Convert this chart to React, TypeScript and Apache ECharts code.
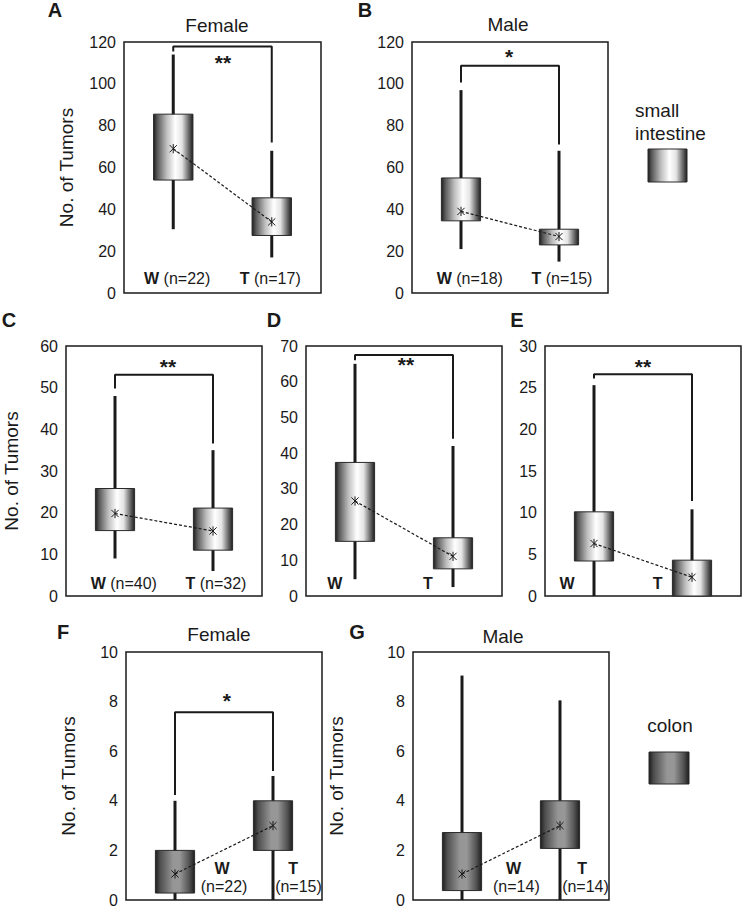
import React, { useEffect, useRef } from 'react';
import * as echarts from 'echarts';

// ---------- data ----------
const groups = ['W', 'T'];
// each box: [lower whisker, Q1, Q3, upper whisker, mean]
const aW = [30.5, 54, 85.5, 114, 69];
const aT = [17, 27.5, 45.5, 68, 34];
const bW = [21, 34.5, 55, 97, 39];
const bT = [15, 23, 30.5, 68, 27];
const cW = [9, 15.7, 25.8, 48, 19.8];
const cT = [6, 11, 21.1, 35, 15.6];
const dW = [4.7, 15.3, 37.4, 65, 26.6];
const dT = [2.5, 7.6, 16.3, 42, 11.1];
const eW = [0, 4.2, 10.1, 25.3, 6.3];
const eT = [0, 0, 4.3, 10.4, 2.25];
const fW = [0, 0.28, 2.0, 4.0, 1.05];
const fT = [0, 2.0, 4.0, 5.0, 3.0];
const gW = [0, 0.38, 2.72, 9.05, 1.05];
const gT = [0, 2.08, 4.0, 8.05, 3.0];

// significance brackets: [bar level, W leg end, T leg end]
const bracketA = [117.8, 115.5, 72];
const bracketB = [108.7, 100.6, 71];
const bracketC = [53.1, 49.8, 36.6];
const bracketD = [67.5, 66, 44];
const bracketE = [26.6, 26.1, 11.4];
const bracketF = [7.57, 4.23, 5.2];
const sigA = '**';
const sigB = '*';
const sigC = '**';
const sigD = '**';
const sigE = '**';
const sigF = '*';

// sample sizes [W, T]
const nA = [22, 17];
const nB = [18, 15];
const nC = [40, 32];
const nF = [22, 15];
const nG = [14, 14];

// y axis ranges [max, step]
const yA = [120, 20];
const yB = [120, 20];
const yC = [60, 10];
const yD = [70, 10];
const yE = [30, 5];
const yF = [10, 2];
const yG = [10, 2];

const yTitle = 'No. of Tumors';

// ---------- styling ----------
const FONT = '"Liberation Sans", Arial, Helvetica, sans-serif';
const INK = '#1a1a1a';
const BOX_HALF = 0.4;
const X_POS = [1, 3];

const SI_STOPS = [
  { offset: 0, color: '#1e1e1e' },
  { offset: 0.1, color: '#5a5a5a' },
  { offset: 0.33, color: '#bdbdbd' },
  { offset: 0.55, color: '#ffffff' },
  { offset: 0.72, color: '#e4e4e4' },
  { offset: 0.88, color: '#717171' },
  { offset: 1, color: '#1e1e1e' },
];
const COLON_STOPS = [
  { offset: 0, color: '#1e1e1e' },
  { offset: 0.12, color: '#4e4e4e' },
  { offset: 0.45, color: '#969696' },
  { offset: 0.62, color: '#979797' },
  { offset: 0.86, color: '#545454' },
  { offset: 1, color: '#1e1e1e' },
];

const grad = (stops: any[]) => new echarts.graphic.LinearGradient(0, 0, 1, 0, stops);

type LabelSpec = { x: number; y: number; text: string; size: number; bold: boolean };

const inline = (n: number[], xs: number[], y: number): LabelSpec[] => [
  { x: xs[0], y, text: `{b|${groups[0]}} (n=${n[0]})`, size: 16, bold: false },
  { x: xs[1], y, text: `{b|${groups[1]}} (n=${n[1]})`, size: 16, bold: false },
];
const lettersOnly = (xs: number[], y: number): LabelSpec[] => [
  { x: xs[0], y, text: `{b|${groups[0]}}`, size: 16, bold: true },
  { x: xs[1], y, text: `{b|${groups[1]}}`, size: 16, bold: true },
];
const stacked = (n: number[], xs: number[][], y1: number, y2: number): LabelSpec[] => [
  { x: xs[0][0], y: y1, text: `{b|${groups[0]}}`, size: 16, bold: true },
  { x: xs[0][1], y: y2, text: `(n=${n[0]})`, size: 16, bold: false },
  { x: xs[1][0], y: y1, text: `{b|${groups[1]}}`, size: 16, bold: true },
  { x: xs[1][1], y: y2, text: `(n=${n[1]})`, size: 16, bold: false },
];

const panels = [
  { grid: { left: 124, top: 42, width: 197, height: 251 }, y: yA, w: aW, t: aT, stops: SI_STOPS,
    bracket: bracketA, sig: sigA, sigPos: [2.01, 110], yName: true, nameGap: 48,
    labels: inline(nA, [1.08, 2.97], 7) },
  { grid: { left: 412, top: 42, width: 196, height: 251 }, y: yB, w: bW, t: bT, stops: SI_STOPS,
    bracket: bracketB, sig: sigB, sigPos: [1.98, 113], yName: false, nameGap: 0,
    labels: inline(nB, [1.18, 3.06], 7) },
  { grid: { left: 66, top: 346, width: 196, height: 250 }, y: yC, w: cW, t: cT, stops: SI_STOPS,
    bracket: bracketC, sig: sigC, sigPos: [2.08, 55], yName: true, nameGap: 45,
    labels: inline(nC, [1.18, 3.06], 3.1) },
  { grid: { left: 306, top: 346, width: 196, height: 250 }, y: yD, w: dW, t: dT, stops: SI_STOPS,
    bracket: bracketD, sig: sigD, sigPos: [2.04, 64.9], yName: false, nameGap: 0,
    labels: lettersOnly([0.59, 2.49], 3.6) },
  { grid: { left: 545, top: 346, width: 196, height: 250 }, y: yE, w: eW, t: eT, stops: SI_STOPS,
    bracket: bracketE, sig: sigE, sigPos: [2.0, 27.6], yName: false, nameGap: 0,
    labels: lettersOnly([0.45, 2.3], 1.56) },
  { grid: { left: 126, top: 652, width: 196, height: 251 }, y: yF, w: fW, t: fT, stops: COLON_STOPS,
    bracket: bracketF, sig: sigF, sigPos: [2.06, 8.04], yName: true, nameGap: 48,
    labels: stacked(nF, [[1.96, 2.0], [3.41, 3.52]], 1.26, 0.53) },
  { grid: { left: 413, top: 652, width: 196, height: 250 }, y: yG, w: gW, t: gT, stops: COLON_STOPS,
    bracket: null as number[] | null, sig: '', sigPos: [0, 0], yName: true, nameGap: 67,
    labels: stacked(nG, [[2.05, 2.11], [3.45, 3.52]], 1.26, 0.53) },
];

const makeBoxRender = (stops: any[]) => (params: any, api: any) => {
  const x = api.value(0);
  const lo = api.coord([x, api.value(1)]);
  const hi = api.coord([x, api.value(4)]);
  const tl = api.coord([x - BOX_HALF, api.value(3)]);
  const br = api.coord([x + BOX_HALF, api.value(2)]);
  const m = api.coord([x, api.value(5)]);
  const r = 3.6;
  const mk = (x1: number, y1: number, x2: number, y2: number) => ({
    type: 'line',
    shape: { x1, y1, x2, y2 },
    style: { stroke: INK, lineWidth: 1 },
    z2: 5,
  });
  return {
    type: 'group',
    children: [
      { type: 'line', shape: { x1: lo[0], y1: lo[1], x2: hi[0], y2: hi[1] }, style: { stroke: INK, lineWidth: 3 } },
      {
        type: 'rect',
        shape: { x: tl[0], y: tl[1], width: br[0] - tl[0], height: br[1] - tl[1] },
        style: { fill: grad(stops), stroke: '#2a2a2a', lineWidth: 1 },
        z2: 2,
      },
      mk(m[0] - r, m[1] - r, m[0] + r, m[1] + r),
      mk(m[0] - r, m[1] + r, m[0] + r, m[1] - r),
      mk(m[0], m[1] - r - 1, m[0], m[1] + r + 1),
    ],
  };
};

const textRender = (params: any, api: any) => {
  const p = api.coord([api.value(0), api.value(1)]);
  const item = params.context.items[params.dataIndex];
  return {
    type: 'text',
    x: p[0],
    y: p[1],
    style: {
      text: item.text,
      fontSize: item.size,
      fontWeight: item.bold ? 'bold' : 'normal',
      fontFamily: FONT,
      fill: INK,
      align: 'center',
      verticalAlign: 'middle',
      rich: {
        b: { fontSize: item.size, fontWeight: 'bold', fontFamily: FONT, fill: INK },
      },
    },
  };
};

function buildOption() {
  const grid: any[] = [];
  const xAxis: any[] = [];
  const yAxis: any[] = [];
  const series: any[] = [];

  panels.forEach((p, i) => {
    grid.push({
      ...p.grid,
      show: true,
      borderColor: INK,
      borderWidth: 1.5,
      backgroundColor: 'transparent',
      containLabel: false,
    });
    xAxis.push({ type: 'value', gridIndex: i, min: 0, max: 4, show: false });
    yAxis.push({
      type: 'value',
      gridIndex: i,
      min: 0,
      max: p.y[0],
      interval: p.y[1],
      axisLine: { show: false },
      axisTick: { show: false },
      splitLine: { show: false },
      axisLabel: { fontSize: 16, color: INK, fontFamily: FONT, margin: 8 },
      name: p.yName ? yTitle : '',
      nameLocation: 'middle',
      nameGap: p.nameGap,
      nameTextStyle: { fontSize: 19, color: INK, fontFamily: FONT },
    });

    series.push({
      type: 'custom',
      xAxisIndex: i,
      yAxisIndex: i,
      renderItem: makeBoxRender(p.stops),
      encode: { x: 0, y: [1, 2, 3, 4, 5] },
      data: [
        [X_POS[0], ...p.w],
        [X_POS[1], ...p.t],
      ],
      z: 2,
      silent: true,
    });
    series.push({
      type: 'line',
      xAxisIndex: i,
      yAxisIndex: i,
      data: [
        [X_POS[0], p.w[4]],
        [X_POS[1], p.t[4]],
      ],
      symbol: 'none',
      lineStyle: { color: INK, width: 1.2, type: [3, 2] },
      z: 3,
      silent: true,
    });

    const texts: LabelSpec[] = [...p.labels];
    if (p.bracket) {
      const b = p.bracket;
      series.push({
        type: 'line',
        xAxisIndex: i,
        yAxisIndex: i,
        data: [
          [X_POS[0], b[1]],
          [X_POS[0], b[0]],
          [X_POS[1], b[0]],
          [X_POS[1], b[2]],
        ],
        symbol: 'none',
        lineStyle: { color: INK, width: 2 },
        z: 3,
        silent: true,
      });
      texts.push({ x: p.sigPos[0], y: p.sigPos[1], text: p.sig, size: 21, bold: true });
    }
    series.push({
      type: 'custom',
      xAxisIndex: i,
      yAxisIndex: i,
      renderItem: (params: any, api: any) => {
        params.context.items = texts;
        return textRender(params, api);
      },
      encode: { x: 0, y: 1 },
      data: texts.map((l) => [l.x, l.y]),
      z: 4,
      silent: true,
    });
  });

  const txt = (x: number, y: number, text: string, size: number, bold = false, align = 'center') => ({
    type: 'text',
    x,
    y,
    style: {
      text,
      fontSize: size,
      fontWeight: bold ? 'bold' : 'normal',
      fontFamily: FONT,
      fill: INK,
      align,
      verticalAlign: 'middle',
    },
  });

  const graphic: any[] = [
    txt(55, 10, 'A', 20, true),
    txt(365, 10, 'B', 20, true),
    txt(9, 320, 'C', 20, true),
    txt(274, 320, 'D', 20, true),
    txt(517, 320, 'E', 20, true),
    txt(63, 632, 'F', 20, true),
    txt(357, 632, 'G', 20, true),
    txt(217, 25, 'Female', 19),
    txt(508, 24, 'Male', 19),
    txt(219, 634, 'Female', 19),
    txt(503, 636, 'Male', 19),
    txt(635, 110, 'small', 19, false, 'left'),
    txt(635, 133, 'intestine', 19, false, 'left'),
    {
      type: 'rect',
      shape: { x: 648, y: 149, width: 39, height: 33 },
      style: { fill: grad(SI_STOPS), stroke: '#2a2a2a', lineWidth: 1 },
    },
    txt(670, 725, 'colon', 19),
    {
      type: 'rect',
      shape: { x: 649, y: 752, width: 40, height: 32 },
      style: { fill: grad(COLON_STOPS), stroke: '#2a2a2a', lineWidth: 1 },
    },
  ];

  return {
    animation: false,
    backgroundColor: '#ffffff',
    textStyle: { fontFamily: FONT },
    grid,
    xAxis,
    yAxis,
    series,
    graphic,
  };
}

export default function App() {
  const ref = useRef<HTMLDivElement>(null);
  useEffect(() => {
    if (!ref.current) return;
    const chart = echarts.init(ref.current, undefined, { renderer: 'svg' });
    chart.setOption(buildOption() as any);
    return () => chart.dispose();
  }, []);
  return (
    <div
      ref={ref}
      style={{ position: 'fixed', left: 0, top: 0, width: 742, height: 908, background: '#fff' }}
    />
  );
}
